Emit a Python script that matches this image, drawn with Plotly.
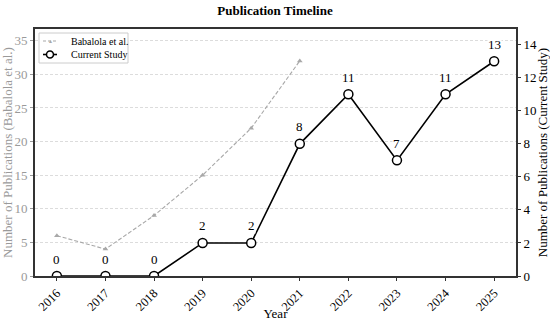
import plotly.graph_objects as go

years = [2016, 2017, 2018, 2019, 2020, 2021, 2022, 2023, 2024, 2025]
babalola_years = [2016, 2017, 2018, 2019, 2020, 2021]
babalola_counts = [6, 4, 9, 15, 22, 32]
current_counts = [0, 0, 0, 2, 2, 8, 11, 7, 11, 13]
year_labels = [str(y) for y in years]
series_names = ["Babalola et al.", "Current Study"]

SERIF = "Liberation Serif, Times New Roman, serif"
GRAY = "#9a9a9a"
W, H = 550, 321
ML, MR, MT, MB = 35, 34, 29, 45
PW, PH = W - ML - MR, H - MT - MB


def px(x):
    return (x - ML) / PW


def py(y):
    return (H - MB - y) / PH


fig = go.Figure()
fig.add_trace(go.Scatter(
    x=babalola_years, y=babalola_counts, name=series_names[0],
    mode="lines+markers", showlegend=False,
    line=dict(color="#a8a8a8", width=1.1, dash="4px,2px"),
    marker=dict(symbol="triangle-up", size=5, color="#a8a8a8"),
    yaxis="y",
))
fig.add_trace(go.Scatter(
    x=years, y=current_counts, name=series_names[1],
    mode="lines+markers", showlegend=False,
    line=dict(color="black", width=1.6),
    marker=dict(symbol="circle", size=9, color="white", line=dict(color="black", width=1.5)),
    yaxis="y2",
))

for x, v in zip(years, current_counts):
    fig.add_annotation(x=x, y=v, xref="x", yref="y2", text=str(v), showarrow=False,
                       yshift=17, font=dict(family=SERIF, size=13, color="black"),
                       bgcolor="white", borderpad=0)

# custom compact legend (matplotlib style)
fig.add_shape(type="rect", xref="paper", yref="paper", x0=px(39), x1=px(128), y0=py(33), y1=py(63),
              line=dict(color="#cccccc", width=1), fillcolor="white", layer="above")
fig.add_shape(type="line", xref="paper", yref="paper", x0=px(43), x1=px(57), y0=py(41), y1=py(41),
              line=dict(color="#a8a8a8", width=1.1, dash="3px,2px"), layer="above")
fig.add_annotation(xref="paper", yref="paper", x=px(50), y=py(41), text="▲", showarrow=False,
                   font=dict(size=5, color="#a8a8a8"), xanchor="center", yanchor="middle")
fig.add_shape(type="line", xref="paper", yref="paper", x0=px(43), x1=px(57), y0=py(54.5), y1=py(54.5),
              line=dict(color="black", width=1.6), layer="above")
fig.add_shape(type="circle", xref="paper", yref="paper", x0=px(46.5), x1=px(53.5), y0=py(51), y1=py(58),
              line=dict(color="black", width=1.5), fillcolor="white", layer="above")
for name, yy in zip(series_names, [41, 54.5]):
    fig.add_annotation(xref="paper", yref="paper", x=px(69), y=py(yy), text=name, showarrow=False,
                       xanchor="left", yanchor="middle", font=dict(family=SERIF, size=10, color="black"))

fig.update_layout(
    width=W, height=H,
    margin=dict(l=ML, r=MR, t=MT, b=MB),
    paper_bgcolor="white", plot_bgcolor="white",
    font=dict(family=SERIF, size=13, color="black"),
    title=dict(text="<b>Publication Timeline</b>", x=0.5, xanchor="center", y=1 - 10 / H, yanchor="middle",
               font=dict(family=SERIF, size=13, color="black")),
    showlegend=False,
    xaxis=dict(range=[2015.55, 2025.45], tickmode="array", tickvals=years, ticktext=year_labels,
               tickangle=-45, tickfont=dict(size=12.5, color="black"), showgrid=False,
               showline=True, linecolor="#333333", linewidth=1.8, mirror=True, automargin=False,
               ticks="outside", ticklen=3, tickcolor="#333333",
               title=dict(text="Year", font=dict(size=13, color="black"), standoff=4), zeroline=False),
    yaxis=dict(range=[0, 36.75], dtick=5, tick0=0, tickfont=dict(size=13, color=GRAY),
               showgrid=True, gridcolor="#dcdcdc", griddash="3px,2px", gridwidth=0.8,
               showline=True, linecolor="#333333", linewidth=1.8, mirror=False, automargin=False,
               ticks="outside", ticklen=3, tickcolor=GRAY, zeroline=False,
               title=dict(text="Number of Publications (Babalola et al.)", font=dict(size=13, color=GRAY), standoff=4)),
    yaxis2=dict(range=[0, 14.95], dtick=2, tick0=0, overlaying="y", side="right",
                tickfont=dict(size=13, color="black"), showgrid=False, automargin=False,
                showline=True, linecolor="#333333", linewidth=1.8,
                ticks="outside", ticklen=3, tickcolor="#333333", zeroline=False,
                title=dict(text="Number of Publications (Current Study)", font=dict(size=13, color="black"), standoff=4)),
)

fig.write_html("out.html", config={"displayModeBar": False},
               post_script="document.body.style.margin='0';document.body.style.overflow='hidden';")
